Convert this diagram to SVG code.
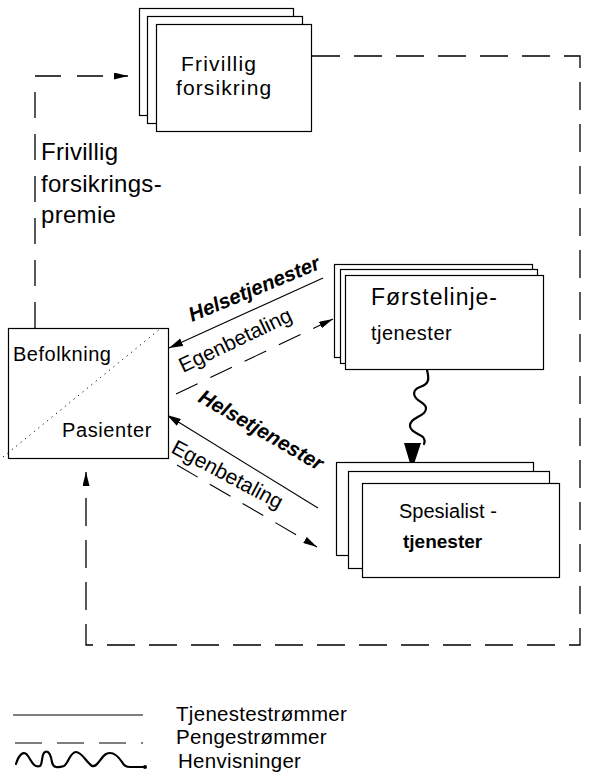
<svg xmlns="http://www.w3.org/2000/svg" width="590" height="780" viewBox="0 0 590 780">
<defs>
<style>
.box{fill:#fff;stroke:#000;stroke-width:1.2}
.t{font-family:"Liberation Sans",Arial,Helvetica,sans-serif;fill:#000}
.bi{font-weight:bold;font-style:italic}
.solid{fill:none;stroke:#000;stroke-width:1.1}
.dash{fill:none;stroke:#000;stroke-width:1.3;stroke-dasharray:28 14}
.dashs{fill:none;stroke:#000;stroke-width:1.1;stroke-dasharray:24 14}
.dot{fill:none;stroke:#000;stroke-width:1;stroke-dasharray:1.2 4.5}
.wave{fill:none;stroke:#000;stroke-width:2.2;stroke-linejoin:round;stroke-linecap:round}
</style>
<marker id="ah" markerUnits="userSpaceOnUse" viewBox="0 0 14 8" refX="14" refY="4" markerWidth="14" markerHeight="8" orient="auto">
<path d="M0,0 L14,4 L0,8 z" fill="#000"/>
</marker>
<marker id="ahs" markerUnits="userSpaceOnUse" viewBox="0 0 14 7" refX="14" refY="3.5" markerWidth="14" markerHeight="7" orient="auto">
<path d="M0,0 L14,3.5 L0,7 z" fill="#000"/>
</marker>
</defs>

<g id="connectors">
<path class="dash" d="M35,328 V76 H128" marker-end="url(#ahs)" style="stroke-dasharray:26 16"/>
<path class="dash" d="M312,56 H580 V645 H86 V472" marker-end="url(#ahs)"/>
<line class="solid" x1="323" y1="278" x2="169" y2="348" marker-end="url(#ah)"/>
<line class="dashs" x1="176" y1="394" x2="333" y2="319" marker-end="url(#ahs)"/>
<line class="solid" x1="318" y1="508" x2="167" y2="415" marker-end="url(#ah)"/>
<line class="dashs" x1="177" y1="465" x2="317" y2="547" marker-end="url(#ahs)"/>
<path class="wave" d="M427,370 C429,378 430,384 420,387 C412,390 413,396 418,400 C424,404 429,407 424,413 C418,418 410,419 410,426 C410,432 420,434 423,437 C425,440 425,442 424,444"/>
<polygon points="404,443 421,443 412,470" fill="#000"/>
</g>

<g id="frivillig-forsikring">
<rect class="box" x="139.5" y="8.5" width="154" height="107"/>
<rect class="box" x="147.5" y="16.5" width="155" height="107"/>
<rect class="box" x="156.5" y="24.5" width="155" height="107"/>
<text class="t" x="181" y="71" font-size="21" letter-spacing="1.2">Frivillig</text>
<text class="t" x="176" y="95" font-size="21" letter-spacing="1.1">forsikring</text>
</g>

<g id="premie-label">
<text class="t" x="41" y="160" font-size="24" letter-spacing="0.3">Frivillig</text>
<text class="t" x="41" y="192" font-size="24" letter-spacing="0.3">forsikrings-</text>
<text class="t" x="41" y="223" font-size="24" letter-spacing="0.3">premie</text>
</g>

<g id="befolkning-pasienter">
<rect class="box" x="8.5" y="328.5" width="160" height="130"/>
<line class="dot" x1="3" y1="457" x2="160" y2="329"/>
<text class="t" x="13" y="361" font-size="20" letter-spacing="0.5">Befolkning</text>
<text class="t" x="62" y="437" font-size="20" letter-spacing="0.6">Pasienter</text>
</g>

<g id="forstelinje">
<rect class="box" x="334.5" y="264.5" width="198" height="93"/>
<rect class="box" x="340.5" y="269.5" width="197" height="94"/>
<rect class="box" x="345.5" y="275.5" width="198" height="94"/>
<text class="t" x="371" y="305" font-size="23" letter-spacing="1">Førstelinje-</text>
<text class="t" x="371" y="340" font-size="20" letter-spacing="0.5">tjenester</text>
</g>

<g id="spesialist">
<rect class="box" x="336.5" y="462.5" width="197" height="93"/>
<rect class="box" x="348.5" y="471.5" width="201" height="97"/>
<rect class="box" x="362.5" y="483.5" width="197" height="94"/>
<text class="t" x="399" y="518" font-size="20">Spesialist -</text>
<text class="t" x="403" y="548" font-size="19" font-weight="bold">tjenester</text>
</g>

<g id="labels">
<text class="t bi" font-size="20.5" transform="translate(192,322) rotate(-22.5)">Helsetjenester</text>
<text class="t" font-size="21" transform="translate(183,373) rotate(-25.5)">Egenbetaling</text>
<text class="t bi" font-size="20.5" transform="translate(197,401) rotate(30)">Helsetjenester</text>
<text class="t" font-size="21" transform="translate(170,452) rotate(28)">Egenbetaling</text>
</g>

<g id="legend">
<line class="solid" x1="13" y1="715" x2="143" y2="715"/>
<line class="solid" x1="15" y1="743" x2="143" y2="743" style="stroke-dasharray:27 15"/>
<path class="wave" d="M16,764 C19,754 24,750 28,756 C32,762 34,768 40,766 C43,764 41,754 45,752 C49,750 51,756 52,762 C53,768 58,768 64,766 C68,764 70,752 76,752 C82,752 86,762 92,766 C97,768 100,758 106,754 C112,751 118,756 122,762 C124,766 126,767 130,767 L145,767"/>
<circle cx="145" cy="767" r="2" fill="#000"/>
<text class="t" x="176" y="721" font-size="20.5" letter-spacing="0.3">Tjenestestrømmer</text>
<text class="t" x="176" y="744" font-size="20.5" letter-spacing="0.3">Pengestrømmer</text>
<text class="t" x="178" y="768" font-size="20.5" letter-spacing="0.3">Henvisninger</text>
</g>
</svg>
